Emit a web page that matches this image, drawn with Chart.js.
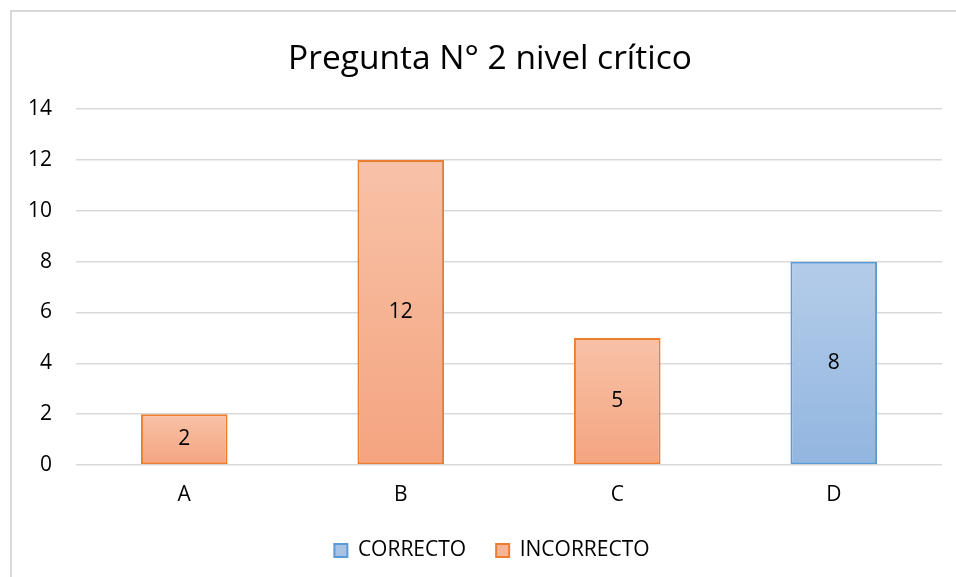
<!DOCTYPE html>
<html lang="es">
<head>
<meta charset="utf-8">
<title>Pregunta N° 2 nivel crítico</title>
<script src="https://cdn.jsdelivr.net/npm/chart.js@4.4.1/dist/chart.umd.min.js"></script>
<style>
  html, body { margin: 0; padding: 0; background: #fff; overflow: hidden; width: 956px; height: 577px; }
  #marco {
    position: absolute; left: 10px; top: 10px;
    width: 990px; height: 600px;
    border: 2px solid #d9d9d9; background: #fff;
  }
  #contenedor { position: absolute; left: 0; top: 0; width: 956px; height: 565px; }
</style>
</head>
<body>
<div id="marco">
  <div id="contenedor"><canvas id="grafico"></canvas></div>
</div>
<script>
// Datos
const categorias = ["A", "B", "C", "D"];
const correcto = [null, null, null, 8];
const incorrecto = [2, 12, 5, null];
const ejeY = { min: 0, max: 14, paso: 2 };

const fuente = "'Open Sans', 'Noto Sans', sans-serif";

// Degradado vertical por barra (como el relleno de Excel)
function degradado(arriba, abajo) {
  return (context) => {
    const chart = context.chart;
    const y = chart.scales.y;
    if (!chart.chartArea || !y || context.raw == null) return abajo;
    const top = y.getPixelForValue(context.raw);
    const base = y.getPixelForValue(0);
    if (!isFinite(top) || !isFinite(base) || top === base) return abajo;
    const g = chart.ctx.createLinearGradient(0, top, 0, base);
    g.addColorStop(0, arriba);
    g.addColorStop(1, abajo);
    return g;
  };
}

// Etiquetas de valor centradas en cada barra
const etiquetasValor = {
  id: "etiquetasValor",
  afterDatasetsDraw(chart) {
    const ctx = chart.ctx;
    ctx.save();
    ctx.font = "21px " + fuente;
    ctx.fillStyle = "#000";
    ctx.textAlign = "center";
    ctx.textBaseline = "middle";
    chart.data.datasets.forEach((ds, i) => {
      const meta = chart.getDatasetMeta(i);
      meta.data.forEach((bar, j) => {
        const v = ds.data[j];
        if (v == null) return;
        ctx.fillText(String(v), bar.x, (bar.y + bar.base) / 2);
      });
    });
    ctx.restore();
  }
};

// Título y leyenda se centran sobre todo el ancho del lienzo, no sólo el área del gráfico
const centrarCajas = {
  id: "centrarCajas",
  afterLayout(chart) {
    if (chart.legend) chart.legend.right = chart.width + 4;
    if (chart.titleBlock) chart.titleBlock.right = chart.width;
  }
};

const grafico = new Chart(document.getElementById("grafico"), {
  type: "bar",
  data: {
    labels: categorias,
    datasets: [
      {
        label: "CORRECTO",
        data: correcto,
        backgroundColor: degradado("#b4cce9", "#92b6e0"),
        borderColor: "#5b9bd5",
        borderWidth: 2,
        borderSkipped: false
      },
      {
        label: "INCORRECTO",
        data: incorrecto,
        backgroundColor: degradado("#f8c2a8", "#f4a47f"),
        borderColor: "#ed7d31",
        borderWidth: 2,
        borderSkipped: false
      }
    ]
  },
  options: {
    responsive: true,
    maintainAspectRatio: false,
    animation: false,
    datasets: { bar: { categoryPercentage: 1, barPercentage: 0.4 } },
    layout: { padding: { left: 0, right: 26, top: 0, bottom: 6 } },
    plugins: {
      tooltip: { enabled: false },
      title: {
        display: true,
        text: "Pregunta N° 2 nivel crítico",
        color: "#000",
        font: { family: fuente, size: 33.5, weight: "normal" },
        padding: { top: 27, bottom: 30 }
      },
      legend: {
        position: "bottom",
        labels: {
          color: "#000",
          font: { family: fuente, size: 21 },
          boxWidth: 13,
          boxHeight: 13,
          padding: 30,
          generateLabels: () => [
            { text: "CORRECTO", fillStyle: "#a6c3e6", strokeStyle: "#5b9bd5", lineWidth: 2, datasetIndex: 0 },
            { text: "INCORRECTO", fillStyle: "#f6b496", strokeStyle: "#ed7d31", lineWidth: 2, datasetIndex: 1 }
          ]
        }
      }
    },
    scales: {
      x: {
        stacked: true,
        afterFit: (s) => { s.height = 45; },
        grid: { display: false },
        border: { display: false },
        ticks: { color: "#000", font: { family: fuente, size: 21 }, padding: 9 }
      },
      y: {
        stacked: true,
        min: ejeY.min,
        max: ejeY.max,
        afterFit: (s) => { s.width = 64; },
        border: { display: false },
        grid: { color: "#d9d9d9", lineWidth: 1.5, drawTicks: false },
        ticks: { stepSize: ejeY.paso, color: "#000", font: { family: fuente, size: 21 }, padding: 24 }
      }
    }
  },
  plugins: [etiquetasValor, centrarCajas]
});
</script>
</body>
</html>
